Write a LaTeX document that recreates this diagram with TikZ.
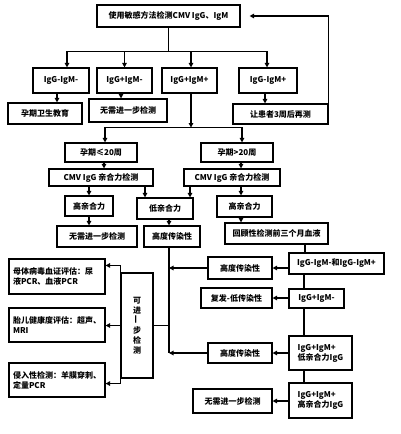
\documentclass[tikz,border=0pt]{standalone}
\usepackage{fontspec}
\setmainfont{Noto Sans CJK SC}
\usetikzlibrary{arrows.meta,calc}
\tikzset{
  box/.style={draw=black,line width=1.1pt,fill=white,inner sep=1pt,align=center,
    font=\bfseries\fontsize{8}{10}\selectfont},
  lbox/.style={box,align=left},
  ar/.style={-{Triangle[length=4.5pt,width=4.5pt]},line width=1.1pt},
  ln/.style={line width=1.1pt},
}

\begin{document}
\begin{tikzpicture}[x=1pt,y=-1pt]
  \useasboundingbox (0,0) rectangle (400,434);
  \node[box,minimum width=143pt,minimum height=22pt] (top) at (168.5,16) {使用敏感方法检测CMV IgG、IgM};
  \foreach \n/\x/\w/\lab in {g1/61/56/IgG-IgM-,g2/124.5/55/IgG+IgM-,g3/189.5/55/IgG+IgM+,g4/268/58/IgG-IgM+} {
    \node[box,minimum width=\w pt,minimum height=25pt] (\n) at (\x,80.5) {\lab};
  }
  \node[box,minimum width=74pt,minimum height=21pt] (edu) at (45,113.5) {孕期卫生教育};
  \node[box,minimum width=78pt,minimum height=23pt] (nof1) at (128,110.5) {无需进一步检测};
  \node[box,minimum width=95pt,minimum height=20pt] (retest) at (280.5,114) {让患者3周后再测};

  \node[box,minimum width=72pt,minimum height=19pt] (p1) at (101,152.5) {孕期≤20周};
  \node[box,minimum width=72pt,minimum height=19pt] (p2) at (237,152.5) {孕期>20周};
  \node[box,minimum width=104pt,minimum height=17pt] (cmv1) at (101,177.5) {CMV IgG 亲合力检测};
  \node[box,minimum width=96pt,minimum height=17pt] (cmv2) at (232,177.5) {CMV IgG 亲合力检测};
  \node[box,minimum width=48pt,minimum height=20pt] (hi1) at (89,206) {高亲合力};
  \node[box,minimum width=56pt,minimum height=21pt] (lo) at (165,208.5) {低亲合力};
  \node[box,minimum width=55pt,minimum height=21pt] (hi2) at (244.5,206.5) {高亲合力};
  \node[box,minimum width=80pt,minimum height=21pt] (nof2) at (97,236.5) {无需进一步检测};
  \node[box,minimum width=56pt,minimum height=21pt] (hd) at (172,236.5) {高度传染性};
  \node[box,minimum width=103pt,minimum height=21pt] (retro) at (276.5,233.5) {回顾性检测前三个月血液};

  \node[box,minimum width=95pt,minimum height=21pt] (A) at (336.5,263.5) {IgG-IgM-和IgG-IgM+};
  \node[box,minimum width=55pt,minimum height=19pt] (B) at (316.5,298.5) {IgG+IgM-};
  \node[lbox,minimum width=63pt,minimum height=34pt] (C) at (320.5,353) {IgG+IgM+\\低亲合力IgG};
  \node[lbox,minimum width=63pt,minimum height=35pt] (D) at (320.5,400.5) {IgG+IgM+\\高亲合力IgG};
  \node[box,minimum width=64pt,minimum height=22pt] (h1) at (240,268) {高度传染性};
  \node[box,minimum width=71pt,minimum height=20pt] (rec) at (236.5,298) {复发-低传染性};
  \node[box,minimum width=64pt,minimum height=20pt] (h2) at (240,353) {高度传染性};
  \node[box,minimum width=79pt,minimum height=24pt] (nof3) at (232.5,401) {无需进一步检测};

  \node[box,minimum width=32pt,minimum height=105pt] (more) at (137,325.5) {可\\进\\\rotatebox{90}{一}\\步\\检\\测};
  \node[lbox,inner xsep=4pt,text width=88pt,minimum height=35pt] (m1) at (57,276.5) {母体病毒血证评估：尿\\液PCR、血液PCR};
  \node[lbox,inner xsep=4pt,text width=88pt,minimum height=34pt] (m2) at (57,325) {胎儿健康度评估：超声、\\MRI};
  \node[lbox,inner xsep=4pt,text width=88pt,minimum height=34pt] (m3) at (57,380) {侵入性检测：羊膜穿刺、\\定量PCR};

  \draw[ln] (top.south) -- ++(0,24) coordinate (bus);
  \foreach \n/\dx in {g1/6,g2/0,g3/1.5,g4/-1}
    \draw[ar] (bus) -| ([xshift=\dx pt]\n.north);
  \draw[ar] ([xshift=-4pt]g1.south) -- ([xshift=-4pt]g1.south |- edu.north);
  \draw[ar] ([xshift=-3.5pt]g2.south) -- ([xshift=-3.5pt]g2.south |- nof1.north);
  \draw[ar] ([xshift=-3pt]g4.south) -- ([xshift=-3pt]g4.south |- retest.north);
  \draw[ar,shorten >=9pt] (retest.north east) |- (top.east);

  \draw[ar] ([xshift=1.5pt]g3.south) -- ++(0,34) coordinate (bus2);
  \draw[ar] (bus2) -| ([xshift=4pt]p1.north);
  \draw[ar] (bus2) -| ([xshift=5pt]p2.north);
  \draw[ar] ([xshift=3pt]p1.south) -- ([xshift=3pt]p1.south |- cmv1.north);
  \draw[ar] ([xshift=4pt]p2.south) -- ([xshift=4pt]p2.south |- cmv2.north);
  \draw[ar] (hi1.north |- cmv1.south) -- (hi1.north);
  \draw[ar] ([xshift=-20pt]lo.north |- cmv1.south) -- ([xshift=-20pt]lo.north);
  \draw[ar] ([xshift=25pt]lo.north |- cmv2.south) -- ([xshift=25pt]lo.north);
  \draw[ar] ([xshift=-3.5pt]hi2.north |- cmv2.south) -- ([xshift=-3.5pt]hi2.north);
  \draw[ar] (hi1.south) -- (hi1.south |- nof2.north);
  \draw[ar] ([xshift=4pt]lo.south) -- ([xshift=4pt]lo.south |- hd.north);
  \draw[ar] ([xshift=-3.5pt]hi2.south) -- ([xshift=-3.5pt]hi2.south |- retro.north);

  \draw[ln] ([xshift=-31.5pt]A.north |- retro.south) -- ([xshift=-31.5pt]A.north);
  \coordinate (col) at ([xshift=-32.5pt]A.south);
  \foreach \u/\v in {A/B,B/C,C/D}
    \draw[ln] (col |- \u.south) -- (col |- \v.north);
  \foreach \u/\v in {A/h1,B/rec,C/h2,D/nof3}
    \draw[ar] (\v.east -| \u.west) -- (\v.east);

  \coordinate (trunk) at ([xshift=-3pt]hd.south);
  \draw[ln] (trunk) -- (trunk |- h2.west);
  \draw[ar] (h1.west) -- (h1.west -| trunk);
  \draw[ar] (h2.west) -- (h2.west -| trunk);
  \draw[ln] (trunk |- more.east) -- (more.east);

  \draw[ln] ([yshift=7pt]more.north west) coordinate (bt) -- ([yshift=-5pt]more.south west) coordinate (bb);
  \draw[ar] (bt) -- (bt -| m1.east);
  \draw[ar] (more.west) -- (more.west -| m2.east);
  \draw[ar] (bb) -- (bb -| m3.east);
\end{tikzpicture}
\end{document}
